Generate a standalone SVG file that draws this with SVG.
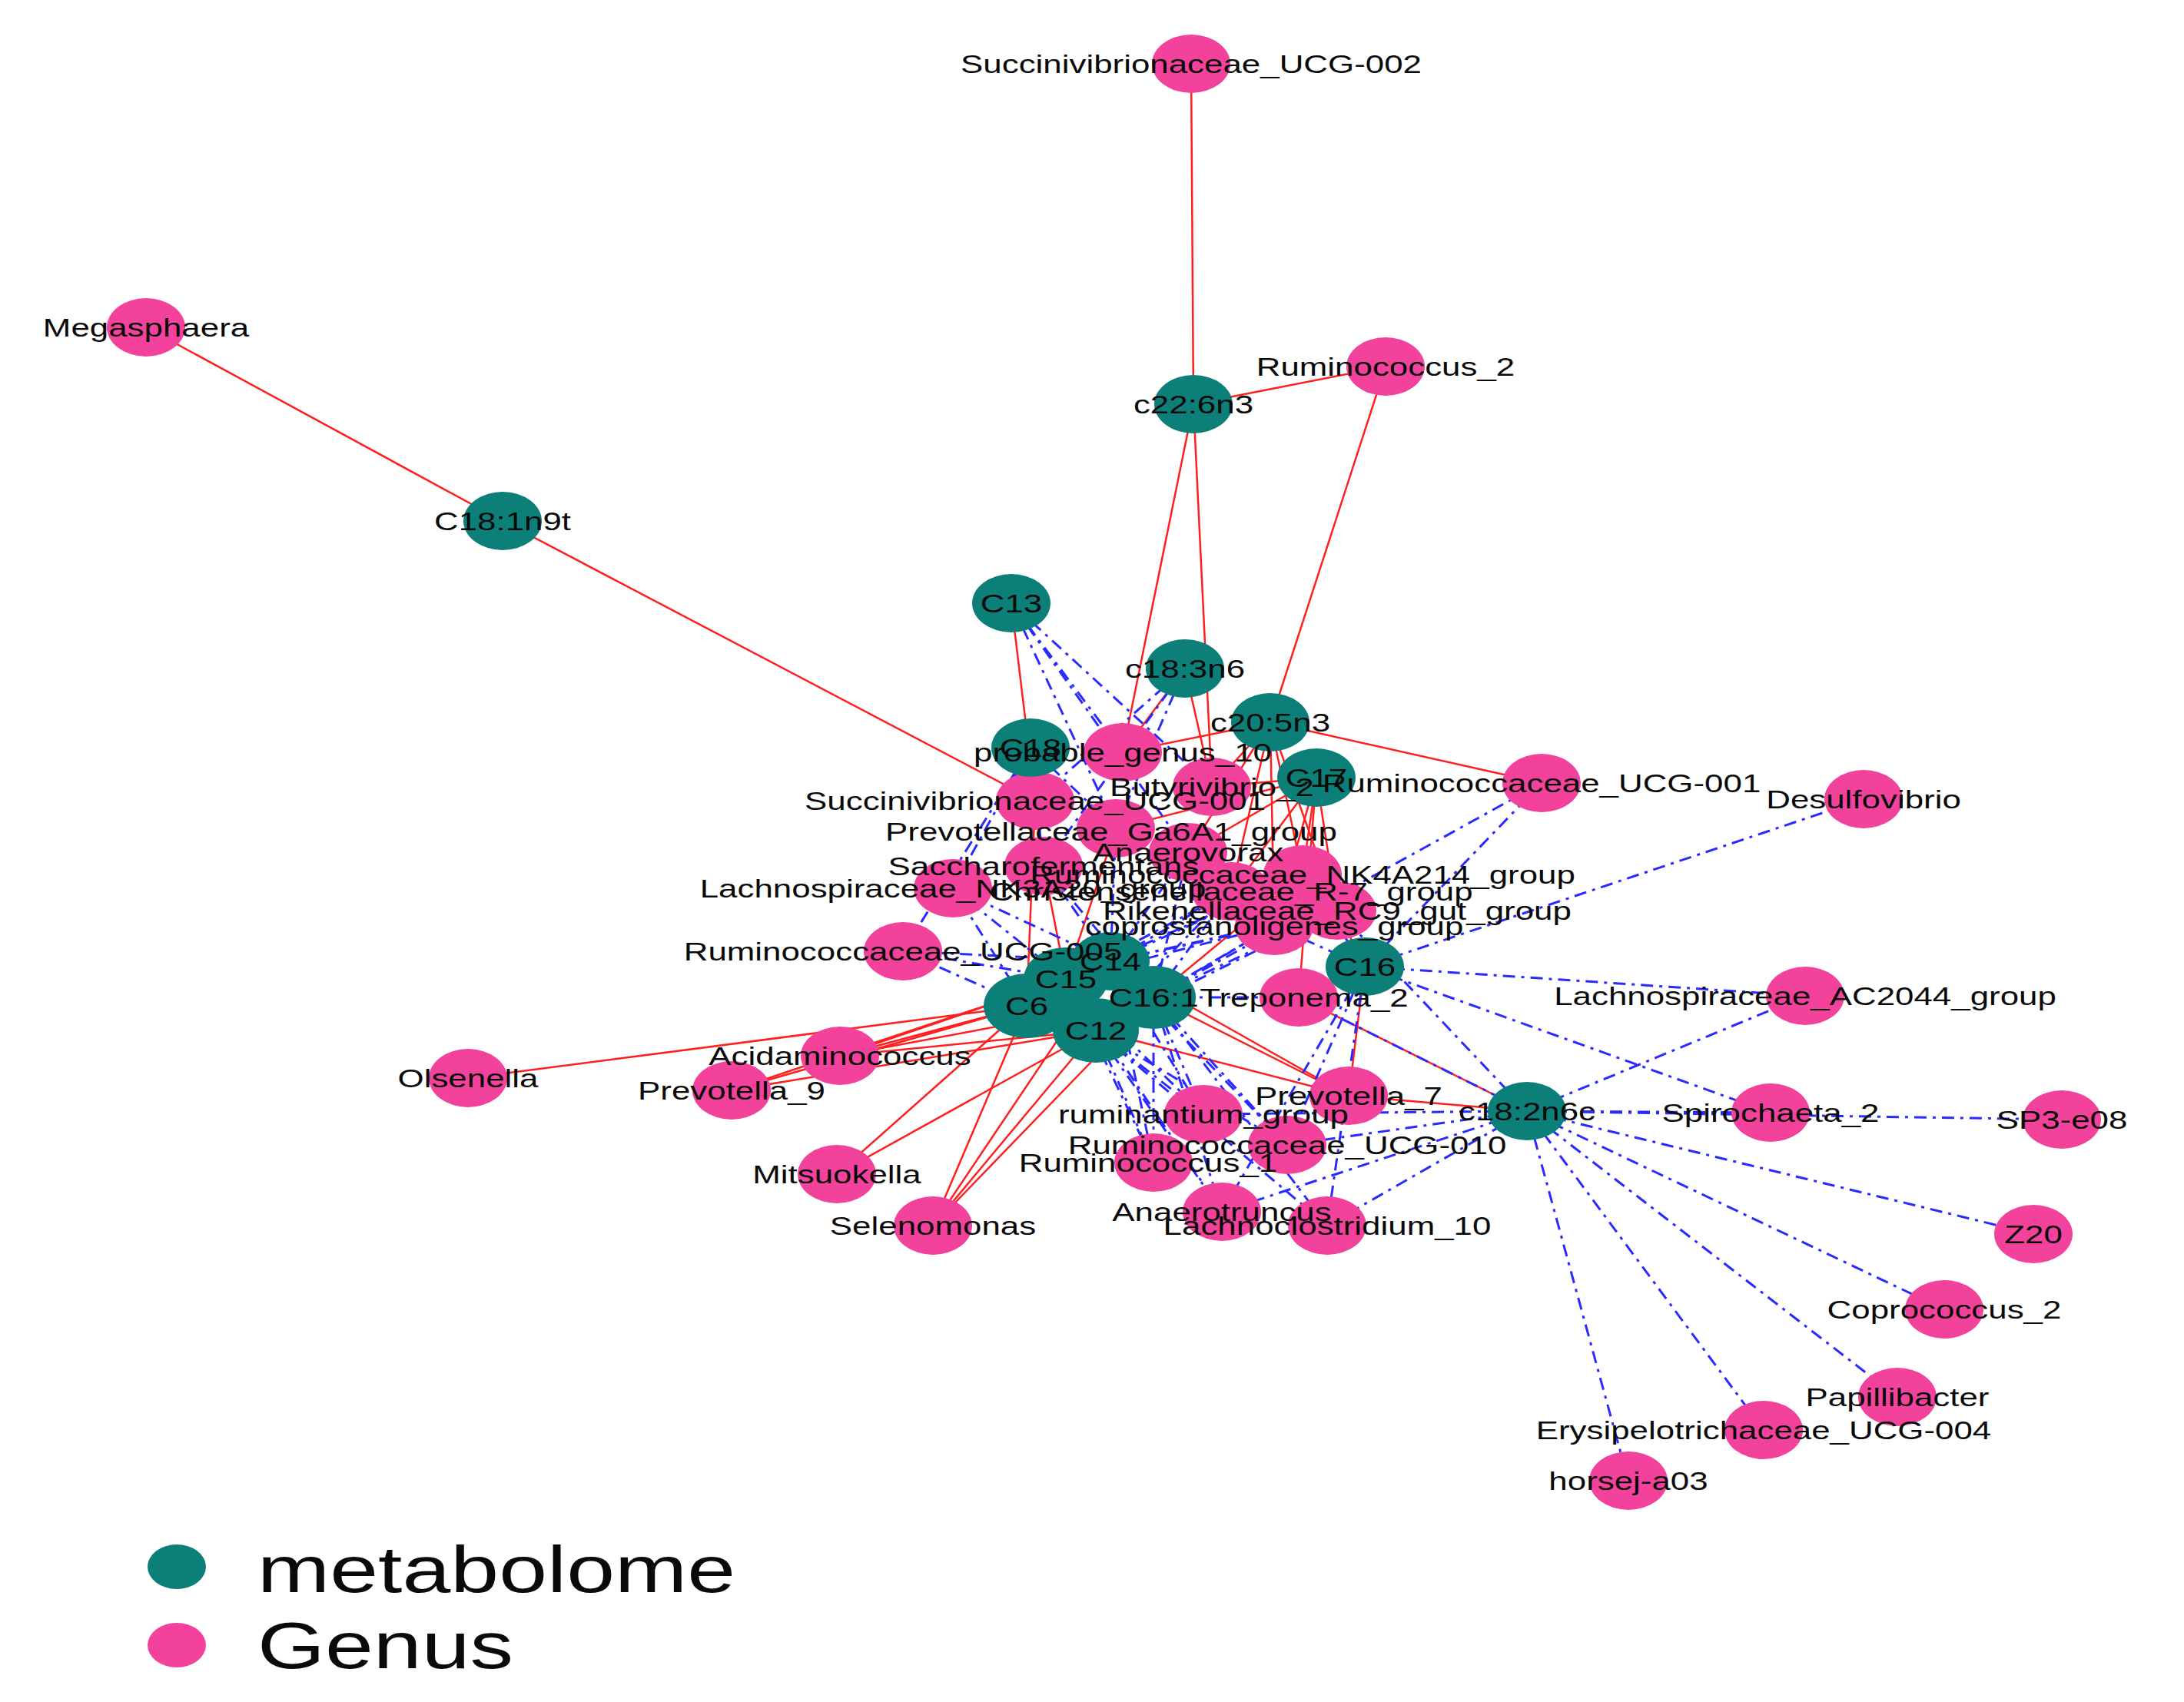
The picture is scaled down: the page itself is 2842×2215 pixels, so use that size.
<svg xmlns="http://www.w3.org/2000/svg" width="2842" height="2215" viewBox="0 0 2842 2215">
<style>
.pos{stroke:#ff1f1f;stroke-width:2.5;fill:none}
.neg{stroke:#2a2aff;stroke-width:3;stroke-dasharray:16 8 4 8;fill:none}
.met{fill:#0d7f79}
.gen{fill:#f2429c}
.lbl{font-family:"Liberation Sans",Arial,sans-serif;font-size:33px;fill:#0a0a0a;text-anchor:middle}
.leg{font-family:"Liberation Sans",Arial,sans-serif;font-size:85px;fill:#0a0a0a}
</style>
<rect width="2842" height="2215" fill="#ffffff"/>
<g id="connectors">
<g id="positive">
<line class="pos" x1="1553" y1="526" x2="1550" y2="83"/>
<line class="pos" x1="1553" y1="526" x2="1803" y2="477"/>
<line class="pos" x1="654" y1="678" x2="190" y2="426"/>
<line class="pos" x1="654" y1="678" x2="1347" y2="1042"/>
<line class="pos" x1="1316" y1="785" x2="1347" y2="1042"/>
<line class="pos" x1="1553" y1="526" x2="1461" y2="979"/>
<line class="pos" x1="1553" y1="526" x2="1577" y2="1024"/>
<line class="pos" x1="1542" y1="870" x2="1461" y2="979"/>
<line class="pos" x1="1542" y1="870" x2="1577" y2="1024"/>
<line class="pos" x1="1803" y1="477" x2="1653" y2="940"/>
<line class="pos" x1="1653" y1="940" x2="2006" y2="1019"/>
<line class="pos" x1="1653" y1="940" x2="1461" y2="979"/>
<line class="pos" x1="1653" y1="940" x2="1577" y2="1024"/>
<line class="pos" x1="1653" y1="940" x2="1695" y2="1138"/>
<line class="pos" x1="1653" y1="940" x2="1602" y2="1160"/>
<line class="pos" x1="1653" y1="940" x2="1546" y2="1109"/>
<line class="pos" x1="1653" y1="940" x2="1740" y2="1185"/>
<line class="pos" x1="1653" y1="940" x2="1658" y2="1205"/>
<line class="pos" x1="1713" y1="1012" x2="1695" y2="1138"/>
<line class="pos" x1="1713" y1="1012" x2="1602" y2="1160"/>
<line class="pos" x1="1713" y1="1012" x2="1740" y2="1185"/>
<line class="pos" x1="1713" y1="1012" x2="1658" y2="1205"/>
<line class="pos" x1="1713" y1="1012" x2="1546" y2="1109"/>
<line class="pos" x1="1713" y1="1012" x2="1452" y2="1078"/>
<line class="pos" x1="1713" y1="1012" x2="1577" y2="1024"/>
<line class="pos" x1="1713" y1="1012" x2="1690" y2="1298"/>
<line class="pos" x1="1776" y1="1258" x2="1690" y2="1298"/>
<line class="pos" x1="1776" y1="1258" x2="1755" y2="1426"/>
<line class="pos" x1="1776" y1="1258" x2="1740" y2="1185"/>
<line class="pos" x1="1690" y1="1298" x2="1987" y2="1446"/>
<line class="pos" x1="1755" y1="1426" x2="1987" y2="1446"/>
<line class="pos" x1="1336" y1="1309" x2="609" y2="1403"/>
<line class="pos" x1="1336" y1="1309" x2="1093" y2="1374"/>
<line class="pos" x1="1426" y1="1341" x2="1093" y2="1374"/>
<line class="pos" x1="1387" y1="1274" x2="1093" y2="1374"/>
<line class="pos" x1="1501" y1="1298" x2="1093" y2="1374"/>
<line class="pos" x1="1336" y1="1309" x2="952" y2="1419"/>
<line class="pos" x1="1426" y1="1341" x2="952" y2="1419"/>
<line class="pos" x1="1387" y1="1274" x2="952" y2="1419"/>
<line class="pos" x1="1336" y1="1309" x2="1089" y2="1528"/>
<line class="pos" x1="1426" y1="1341" x2="1089" y2="1528"/>
<line class="pos" x1="1336" y1="1309" x2="1214" y2="1595"/>
<line class="pos" x1="1426" y1="1341" x2="1214" y2="1595"/>
<line class="pos" x1="1501" y1="1298" x2="1214" y2="1595"/>
<line class="pos" x1="1445" y1="1251" x2="1214" y2="1595"/>
<line class="pos" x1="1501" y1="1298" x2="1755" y2="1426"/>
<line class="pos" x1="1426" y1="1341" x2="1755" y2="1426"/>
<line class="pos" x1="1445" y1="1251" x2="1755" y2="1426"/>
<line class="pos" x1="1336" y1="1309" x2="1347" y2="1042"/>
<line class="pos" x1="1387" y1="1274" x2="1358" y2="1127"/>
<line class="pos" x1="1387" y1="1274" x2="1452" y2="1078"/>
<line class="pos" x1="1501" y1="1298" x2="1695" y2="1138"/>
</g>
<g id="negative">
<line class="neg" x1="1987" y1="1446" x2="2349" y2="1296"/>
<line class="neg" x1="1987" y1="1446" x2="2304" y2="1448"/>
<line class="neg" x1="1987" y1="1446" x2="2683" y2="1457"/>
<line class="neg" x1="1987" y1="1446" x2="2646" y2="1606"/>
<line class="neg" x1="1987" y1="1446" x2="2530" y2="1704"/>
<line class="neg" x1="1987" y1="1446" x2="2469" y2="1818"/>
<line class="neg" x1="1987" y1="1446" x2="2295" y2="1861"/>
<line class="neg" x1="1987" y1="1446" x2="2119" y2="1927"/>
<line class="neg" x1="1987" y1="1446" x2="1675" y2="1490"/>
<line class="neg" x1="1987" y1="1446" x2="1727" y2="1595"/>
<line class="neg" x1="1987" y1="1446" x2="1590" y2="1577"/>
<line class="neg" x1="1987" y1="1446" x2="1566" y2="1450"/>
<line class="neg" x1="1987" y1="1446" x2="1690" y2="1298"/>
<line class="neg" x1="1987" y1="1446" x2="1740" y2="1185"/>
<line class="neg" x1="1776" y1="1258" x2="2425" y2="1040"/>
<line class="neg" x1="1776" y1="1258" x2="2006" y2="1019"/>
<line class="neg" x1="1501" y1="1298" x2="2006" y2="1019"/>
<line class="neg" x1="1776" y1="1258" x2="2349" y2="1296"/>
<line class="neg" x1="1776" y1="1258" x2="2304" y2="1448"/>
<line class="neg" x1="1776" y1="1258" x2="1727" y2="1595"/>
<line class="neg" x1="1776" y1="1258" x2="1675" y2="1490"/>
<line class="neg" x1="1776" y1="1258" x2="1590" y2="1577"/>
<line class="neg" x1="1776" y1="1258" x2="1695" y2="1138"/>
<line class="neg" x1="1776" y1="1258" x2="1658" y2="1205"/>
<line class="neg" x1="1316" y1="785" x2="1461" y2="979"/>
<line class="neg" x1="1316" y1="785" x2="1577" y2="1024"/>
<line class="neg" x1="1316" y1="785" x2="1452" y2="1078"/>
<line class="neg" x1="1316" y1="785" x2="1546" y2="1109"/>
<line class="neg" x1="1542" y1="870" x2="1347" y2="1042"/>
<line class="neg" x1="1542" y1="870" x2="1452" y2="1078"/>
<line class="neg" x1="1542" y1="870" x2="1358" y2="1127"/>
<line class="neg" x1="1341" y1="973" x2="1358" y2="1127"/>
<line class="neg" x1="1341" y1="973" x2="1452" y2="1078"/>
<line class="neg" x1="1341" y1="973" x2="1240" y2="1156"/>
<line class="neg" x1="1341" y1="973" x2="1175" y2="1238"/>
<line class="neg" x1="1445" y1="1251" x2="1240" y2="1156"/>
<line class="neg" x1="1445" y1="1251" x2="1358" y2="1127"/>
<line class="neg" x1="1445" y1="1251" x2="1695" y2="1138"/>
<line class="neg" x1="1445" y1="1251" x2="1602" y2="1160"/>
<line class="neg" x1="1445" y1="1251" x2="1740" y2="1185"/>
<line class="neg" x1="1445" y1="1251" x2="1658" y2="1205"/>
<line class="neg" x1="1445" y1="1251" x2="1175" y2="1238"/>
<line class="neg" x1="1445" y1="1251" x2="1566" y2="1450"/>
<line class="neg" x1="1445" y1="1251" x2="1675" y2="1490"/>
<line class="neg" x1="1445" y1="1251" x2="1501" y2="1513"/>
<line class="neg" x1="1445" y1="1251" x2="1452" y2="1078"/>
<line class="neg" x1="1445" y1="1251" x2="1546" y2="1109"/>
<line class="neg" x1="1387" y1="1274" x2="1240" y2="1156"/>
<line class="neg" x1="1387" y1="1274" x2="1175" y2="1238"/>
<line class="neg" x1="1387" y1="1274" x2="1602" y2="1160"/>
<line class="neg" x1="1387" y1="1274" x2="1658" y2="1205"/>
<line class="neg" x1="1387" y1="1274" x2="1566" y2="1450"/>
<line class="neg" x1="1387" y1="1274" x2="1501" y2="1513"/>
<line class="neg" x1="1387" y1="1274" x2="1590" y2="1577"/>
<line class="neg" x1="1387" y1="1274" x2="1695" y2="1138"/>
<line class="neg" x1="1336" y1="1309" x2="1175" y2="1238"/>
<line class="neg" x1="1336" y1="1309" x2="1240" y2="1156"/>
<line class="neg" x1="1426" y1="1341" x2="1566" y2="1450"/>
<line class="neg" x1="1426" y1="1341" x2="1675" y2="1490"/>
<line class="neg" x1="1426" y1="1341" x2="1501" y2="1513"/>
<line class="neg" x1="1426" y1="1341" x2="1590" y2="1577"/>
<line class="neg" x1="1426" y1="1341" x2="1727" y2="1595"/>
<line class="neg" x1="1426" y1="1341" x2="1602" y2="1160"/>
<line class="neg" x1="1426" y1="1341" x2="1658" y2="1205"/>
<line class="neg" x1="1426" y1="1341" x2="1740" y2="1185"/>
<line class="neg" x1="1501" y1="1298" x2="1740" y2="1185"/>
<line class="neg" x1="1501" y1="1298" x2="1658" y2="1205"/>
<line class="neg" x1="1501" y1="1298" x2="1602" y2="1160"/>
<line class="neg" x1="1501" y1="1298" x2="1566" y2="1450"/>
<line class="neg" x1="1501" y1="1298" x2="1675" y2="1490"/>
<line class="neg" x1="1501" y1="1298" x2="1501" y2="1513"/>
<line class="neg" x1="1501" y1="1298" x2="1590" y2="1577"/>
<line class="neg" x1="1501" y1="1298" x2="1727" y2="1595"/>
<line class="neg" x1="1501" y1="1298" x2="1690" y2="1298"/>
<line class="neg" x1="1501" y1="1298" x2="1358" y2="1127"/>
<line class="neg" x1="1501" y1="1298" x2="1546" y2="1109"/>
</g>
</g>
<g id="nodes">
<g id="n-Succinivibrionaceae_UCG-002"><ellipse class="gen" cx="1550" cy="83" rx="51" ry="38"/></g>
<g id="n-Megasphaera"><ellipse class="gen" cx="190" cy="426" rx="51" ry="38"/></g>
<g id="n-Ruminococcus_2"><ellipse class="gen" cx="1803" cy="477" rx="51" ry="38"/></g>
<g id="n-c22_6n3"><ellipse class="met" cx="1553" cy="526" rx="51" ry="38"/></g>
<g id="n-C18_1n9t"><ellipse class="met" cx="654" cy="678" rx="51" ry="38"/></g>
<g id="n-C13"><ellipse class="met" cx="1316" cy="785" rx="51" ry="38"/></g>
<g id="n-c18_3n6"><ellipse class="met" cx="1542" cy="870" rx="51" ry="38"/></g>
<g id="n-Ruminococcaceae_UCG-001"><ellipse class="gen" cx="2006" cy="1019" rx="51" ry="38"/></g>
<g id="n-Desulfovibrio"><ellipse class="gen" cx="2425" cy="1040" rx="51" ry="38"/></g>
<g id="n-Lachnospiraceae_NK3A20_group"><ellipse class="gen" cx="1240" cy="1156" rx="51" ry="38"/></g>
<g id="n-Ruminococcaceae_UCG-005"><ellipse class="gen" cx="1175" cy="1238" rx="51" ry="38"/></g>
<g id="n-Saccharofermentans"><ellipse class="gen" cx="1358" cy="1127" rx="51" ry="38"/></g>
<g id="n-Prevotellaceae_Ga6A1_group"><ellipse class="gen" cx="1452" cy="1078" rx="51" ry="38"/></g>
<g id="n-Succinivibrionaceae_UCG-001"><ellipse class="gen" cx="1347" cy="1042" rx="51" ry="38"/></g>
<g id="n-Anaerovorax"><ellipse class="gen" cx="1546" cy="1109" rx="51" ry="38"/></g>
<g id="n-Christensenellaceae_R-7_group"><ellipse class="gen" cx="1602" cy="1160" rx="51" ry="38"/></g>
<g id="n-coprostanoligenes_group"><ellipse class="gen" cx="1658" cy="1205" rx="51" ry="38"/></g>
<g id="n-Rikenellaceae_RC9_gut_group"><ellipse class="gen" cx="1740" cy="1185" rx="51" ry="38"/></g>
<g id="n-Ruminococcaceae_NK4A214_group"><ellipse class="gen" cx="1695" cy="1138" rx="51" ry="38"/></g>
<g id="n-Butyrivibrio_2"><ellipse class="gen" cx="1577" cy="1024" rx="51" ry="38"/></g>
<g id="n-probable_genus_10"><ellipse class="gen" cx="1461" cy="979" rx="51" ry="38"/></g>
<g id="n-C18"><ellipse class="met" cx="1341" cy="973" rx="51" ry="38"/></g>
<g id="n-c20_5n3"><ellipse class="met" cx="1653" cy="940" rx="51" ry="38"/></g>
<g id="n-C17"><ellipse class="met" cx="1713" cy="1012" rx="51" ry="38"/></g>
<g id="n-Treponema_2"><ellipse class="gen" cx="1690" cy="1298" rx="51" ry="38"/></g>
<g id="n-C16"><ellipse class="met" cx="1776" cy="1258" rx="51" ry="38"/></g>
<g id="n-Acidaminococcus"><ellipse class="gen" cx="1093" cy="1374" rx="51" ry="38"/></g>
<g id="n-Prevotella_9"><ellipse class="gen" cx="952" cy="1419" rx="51" ry="38"/></g>
<g id="n-Olsenella"><ellipse class="gen" cx="609" cy="1403" rx="51" ry="38"/></g>
<g id="n-Mitsuokella"><ellipse class="gen" cx="1089" cy="1528" rx="51" ry="38"/></g>
<g id="n-Selenomonas"><ellipse class="gen" cx="1214" cy="1595" rx="51" ry="38"/></g>
<g id="n-Prevotella_7"><ellipse class="gen" cx="1755" cy="1426" rx="51" ry="38"/></g>
<g id="n-ruminantium_group"><ellipse class="gen" cx="1566" cy="1450" rx="51" ry="38"/></g>
<g id="n-Ruminococcaceae_UCG-010"><ellipse class="gen" cx="1675" cy="1490" rx="51" ry="38"/></g>
<g id="n-Ruminococcus_1"><ellipse class="gen" cx="1501" cy="1513" rx="51" ry="38"/></g>
<g id="n-Anaerotruncus"><ellipse class="gen" cx="1590" cy="1577" rx="51" ry="38"/></g>
<g id="n-Lachnoclostridium_10"><ellipse class="gen" cx="1727" cy="1595" rx="51" ry="38"/></g>
<g id="n-C14"><ellipse class="met" cx="1445" cy="1251" rx="51" ry="38"/></g>
<g id="n-C15"><ellipse class="met" cx="1387" cy="1274" rx="55" ry="41"/></g>
<g id="n-C16_1"><ellipse class="met" cx="1501" cy="1298" rx="55" ry="41"/></g>
<g id="n-C6"><ellipse class="met" cx="1336" cy="1309" rx="56" ry="42"/></g>
<g id="n-C12"><ellipse class="met" cx="1426" cy="1341" rx="56" ry="42"/></g>
<g id="n-c18_2n6c"><ellipse class="met" cx="1987" cy="1446" rx="51" ry="38"/></g>
<g id="n-Lachnospiraceae_AC2044_group"><ellipse class="gen" cx="2349" cy="1296" rx="51" ry="38"/></g>
<g id="n-Spirochaeta_2"><ellipse class="gen" cx="2304" cy="1448" rx="51" ry="38"/></g>
<g id="n-SP3-e08"><ellipse class="gen" cx="2683" cy="1457" rx="51" ry="38"/></g>
<g id="n-Z20"><ellipse class="gen" cx="2646" cy="1606" rx="51" ry="38"/></g>
<g id="n-Coprococcus_2"><ellipse class="gen" cx="2530" cy="1704" rx="51" ry="38"/></g>
<g id="n-Papillibacter"><ellipse class="gen" cx="2469" cy="1818" rx="51" ry="38"/></g>
<g id="n-Erysipelotrichaceae_UCG-004"><ellipse class="gen" cx="2295" cy="1861" rx="51" ry="38"/></g>
<g id="n-horsej-a03"><ellipse class="gen" cx="2119" cy="1927" rx="51" ry="38"/></g>
</g>
<g id="labels">
<text class="lbl" transform="translate(1550 95) scale(1.33 1)">Succinivibrionaceae_UCG-002</text>
<text class="lbl" transform="translate(190 438) scale(1.33 1)">Megasphaera</text>
<text class="lbl" transform="translate(1803 489) scale(1.33 1)">Ruminococcus_2</text>
<text class="lbl" transform="translate(1553 538) scale(1.33 1)">c22:6n3</text>
<text class="lbl" transform="translate(654 690) scale(1.33 1)">C18:1n9t</text>
<text class="lbl" transform="translate(1316 797) scale(1.33 1)">C13</text>
<text class="lbl" transform="translate(1542 882) scale(1.33 1)">c18:3n6</text>
<text class="lbl" transform="translate(1653 952) scale(1.33 1)">c20:5n3</text>
<text class="lbl" transform="translate(1341 985) scale(1.33 1)">C18</text>
<text class="lbl" transform="translate(1461 991) scale(1.33 1)">probable_genus_10</text>
<text class="lbl" transform="translate(1713 1024) scale(1.33 1)">C17</text>
<text class="lbl" transform="translate(1577 1036) scale(1.33 1)">Butyrivibrio_2</text>
<text class="lbl" transform="translate(2006 1031) scale(1.33 1)">Ruminococcaceae_UCG-001</text>
<text class="lbl" transform="translate(2425 1052) scale(1.33 1)">Desulfovibrio</text>
<text class="lbl" transform="translate(1347 1054) scale(1.33 1)">Succinivibrionaceae_UCG-001</text>
<text class="lbl" transform="translate(1446 1094) scale(1.33 1)">Prevotellaceae_Ga6A1_group</text>
<text class="lbl" transform="translate(1546 1121) scale(1.33 1)">Anaerovorax</text>
<text class="lbl" transform="translate(1358 1139) scale(1.33 1)">Saccharofermentans</text>
<text class="lbl" transform="translate(1695 1150) scale(1.33 1)">Ruminococcaceae_NK4A214_group</text>
<text class="lbl" transform="translate(1240 1168) scale(1.33 1)">Lachnospiraceae_NK3A20_group</text>
<text class="lbl" transform="translate(1602 1172) scale(1.33 1)">Christensenellaceae_R-7_group</text>
<text class="lbl" transform="translate(1740 1197) scale(1.33 1)">Rikenellaceae_RC9_gut_group</text>
<text class="lbl" transform="translate(1658 1217) scale(1.33 1)">coprostanoligenes_group</text>
<text class="lbl" transform="translate(1175 1250) scale(1.33 1)">Ruminococcaceae_UCG-005</text>
<text class="lbl" transform="translate(1445 1263) scale(1.33 1)">C14</text>
<text class="lbl" transform="translate(1776 1270) scale(1.33 1)">C16</text>
<text class="lbl" transform="translate(1387 1286) scale(1.33 1)">C15</text>
<text class="lbl" transform="translate(1697 1310) scale(1.33 1)">Treponema_2</text>
<text class="lbl" transform="translate(1501 1310) scale(1.33 1)">C16:1</text>
<text class="lbl" transform="translate(1336 1321) scale(1.33 1)">C6</text>
<text class="lbl" transform="translate(1426 1353) scale(1.33 1)">C12</text>
<text class="lbl" transform="translate(1093 1386) scale(1.33 1)">Acidaminococcus</text>
<text class="lbl" transform="translate(609 1415) scale(1.33 1)">Olsenella</text>
<text class="lbl" transform="translate(952 1431) scale(1.33 1)">Prevotella_9</text>
<text class="lbl" transform="translate(1755 1438) scale(1.33 1)">Prevotella_7</text>
<text class="lbl" transform="translate(1566 1462) scale(1.33 1)">ruminantium_group</text>
<text class="lbl" transform="translate(1987 1458) scale(1.33 1)">c18:2n6c</text>
<text class="lbl" transform="translate(1675 1502) scale(1.33 1)">Ruminococcaceae_UCG-010</text>
<text class="lbl" transform="translate(1494 1525) scale(1.33 1)">Ruminococcus_1</text>
<text class="lbl" transform="translate(1089 1540) scale(1.33 1)">Mitsuokella</text>
<text class="lbl" transform="translate(1590 1589) scale(1.33 1)">Anaerotruncus</text>
<text class="lbl" transform="translate(1727 1607) scale(1.33 1)">Lachnoclostridium_10</text>
<text class="lbl" transform="translate(1214 1607) scale(1.33 1)">Selenomonas</text>
<text class="lbl" transform="translate(2349 1308) scale(1.33 1)">Lachnospiraceae_AC2044_group</text>
<text class="lbl" transform="translate(2304 1460) scale(1.33 1)">Spirochaeta_2</text>
<text class="lbl" transform="translate(2683 1469) scale(1.33 1)">SP3-e08</text>
<text class="lbl" transform="translate(2646 1618) scale(1.33 1)">Z20</text>
<text class="lbl" transform="translate(2530 1716) scale(1.33 1)">Coprococcus_2</text>
<text class="lbl" transform="translate(2469 1830) scale(1.33 1)">Papillibacter</text>
<text class="lbl" transform="translate(2295 1873) scale(1.33 1)">Erysipelotrichaceae_UCG-004</text>
<text class="lbl" transform="translate(2119 1939) scale(1.33 1)">horsej-a03</text>
</g>
<g id="legend">
<ellipse class="met" cx="230" cy="2039" rx="38" ry="29"/>
<text class="leg" transform="translate(335 2072) scale(1.33 1)">metabolome</text>
<ellipse class="gen" cx="230" cy="2141" rx="38" ry="29"/>
<text class="leg" transform="translate(335 2171) scale(1.33 1)">Genus</text>
</g>
</svg>
